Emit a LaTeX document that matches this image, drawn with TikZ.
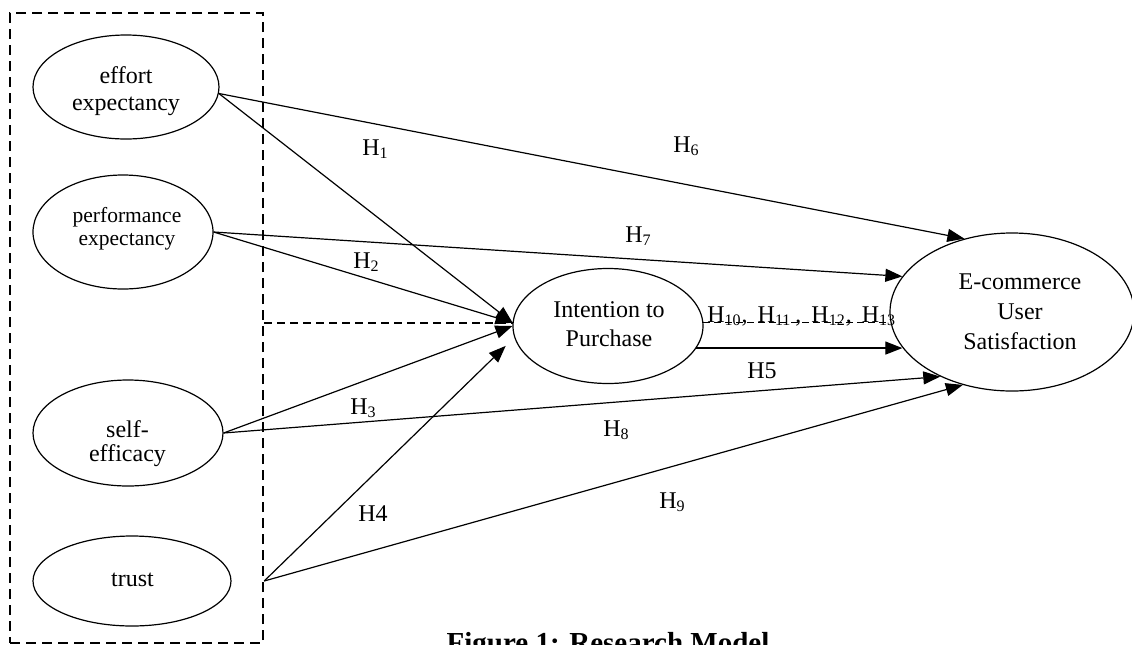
\documentclass[tikz,border=0pt]{standalone}
\usepackage{fontspec}
\setmainfont{Liberation Serif}
\usetikzlibrary{arrows.meta,shapes.geometric}
\begin{document}
\begin{tikzpicture}[x=0.5pt,y=-0.5pt,
  latent/.style={draw, ellipse, line width=0.6pt, inner sep=0pt},
  txt/.style={inner sep=0pt, align=center},
  lab/.style={inner sep=0pt, anchor=base west, font=\fontsize{12}{14}\selectfont},
  link/.style={line width=0.6pt, -{Triangle[length=8.5pt,width=6.5pt]}},
  groupbox/.style={draw, line width=1.2pt, dash pattern=on 5pt off 3pt, inner sep=0pt},
  guide/.style={line width=1pt, dash pattern=on 4pt off 2.5pt},
  mediate/.style={line width=0.6pt, dash pattern=on 3.5pt off 2pt}]
\useasboundingbox (0,0) rectangle (1132,644);

% group of antecedents
\node[groupbox, minimum width=126.5pt, minimum height=315pt] (box) at (136.5,328) {};

% latent constructs
\node[latent, minimum width=93pt, minimum height=52pt]   (eff)   at (126,87)  {};
\node[latent, minimum width=90pt, minimum height=57pt]   (perf)  at (123,232) {};
\node[latent, minimum width=95pt, minimum height=53pt]   (self)  at (128,433) {};
\node[latent, minimum width=99pt, minimum height=45pt]   (trust) at (132,581) {};
\node[latent, minimum width=95pt, minimum height=57.5pt] (int)   at (608,326) {};
\node[latent, minimum width=122pt, minimum height=79pt]  (eus)   at (1012,312) {};

% construct names
\node[txt, font=\fontsize{12}{13.5}\selectfont]    (effT)   at (126,91)    {effort\\expectancy};
\node[txt, font=\fontsize{10.75}{11.5}\selectfont] (perfT)  at (127,228.5) {performance\\expectancy};
\node[txt, font=\fontsize{12}{12}\selectfont]      (selfT)  at (127.5,443.5) {self-\\efficacy};
\node[txt, font=\fontsize{12}{14}\selectfont]      (trustT) at (132.5,580) {trust};
\node[txt, font=\fontsize{12}{14.5}\selectfont]    (intT)   at (609,324.5) {Intention to\\Purchase};
\node[txt, font=\fontsize{12}{15}\selectfont]      (eusT)   at (1020,312) {E-commerce\\User\\Satisfaction};

% paths to intention
\draw[link] (eff.-4) -- (int.178);
\draw[link] (perf.east) -- (int.178);
\draw[link] (self.east) -- (int.west);
\draw[link, shorten >=6pt] (trust -| box.east) -- (int.187);
\draw[guide] (box.east |- int.178) -- (int.178);

% paths to satisfaction
\draw[link] (eff.-4) -- (eus.123);
\draw[link] (perf.east) -- (eus.162.5);
\draw[link] (int.-14) -- (int.-14 -| eus.198);
\draw[mediate] (int.2) -- (int.2 -| eus.west);
\draw[link] (self.east) -- (eus.222);
\draw[link] (trust -| box.east) -- (eus.236.5);

% hypothesis labels
\node[lab] (h1) at (362,155) {H\textsubscript{1}};
\node[lab] (h2) at (353,268) {H\textsubscript{2}};
\node[lab] (h3) at (350,414) {H\textsubscript{3}};
\node[lab] (h4) at (358,521) {H4};
\node[lab, anchor=base] (h5) at (762,378) {H5};
\node[lab] (h6) at (673,152) {H\textsubscript{6}};
\node[lab] (h7) at (625,242) {H\textsubscript{7}};
\node[lab] (h8) at (603,436) {H\textsubscript{8}};
\node[lab] (h9) at (659,508) {H\textsubscript{9}};
\node[lab] (h10) at (707,322) {H\textsubscript{10},\, H\textsubscript{11}\,,\, H\textsubscript{12},\, H\textsubscript{13}};

% caption, running off the lower edge
\node[inner sep=0pt, anchor=base, font=\fontsize{14.5}{17}\bfseries\selectfont] (cap) at (608,652) {Figure 1: Research Model};
\end{tikzpicture}
\end{document}
